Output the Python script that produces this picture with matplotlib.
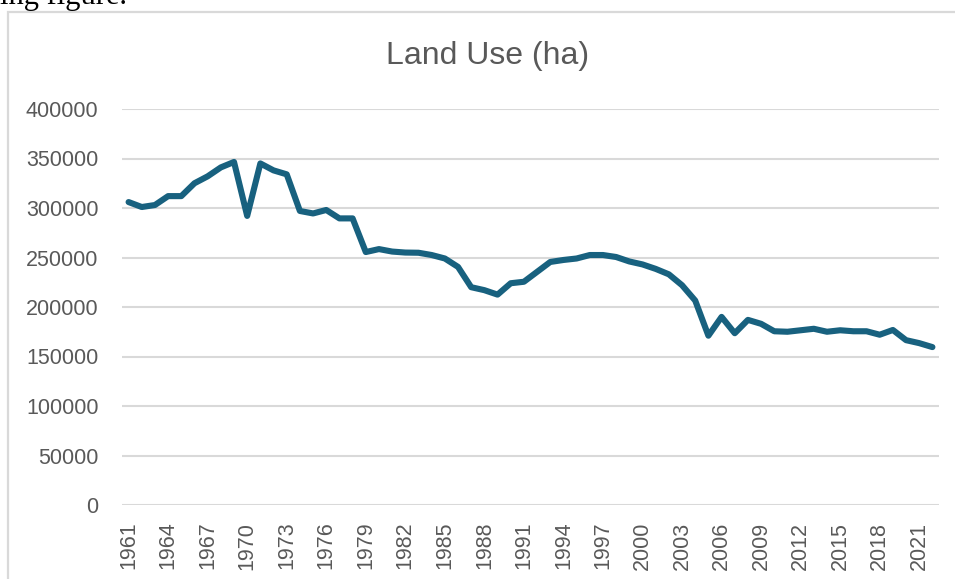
import matplotlib.pyplot as plt
from matplotlib.patches import Rectangle

years = list(range(1961, 2023))

land_use = [306000, 301000, 303000, 312000, 312000, 325000, 332000, 341000, 346500, 292000,
            345000, 338000, 334000, 297000, 294500, 298000, 289500, 289500, 255500, 258500,
            256000, 255000, 254800, 252500, 249000, 240500, 220000, 217000, 212500, 224000,
            225500, 235500, 245500, 247500, 249000, 252500, 252500, 250500, 246000, 243000,
            238500, 233000, 222000, 206500, 171000, 190000, 173500, 187000, 183000, 175500,
            175000, 176500, 178000, 175000, 176500, 175500, 175500, 172000, 176800, 166500,
            163500, 159500]

tick_years = years[::3]
y_ticks = list(range(0, 400001, 50000))

W, H = 955, 579
fig = plt.figure(figsize=(W / 100, H / 100), dpi=100)

# chart frame (Excel chart area border)
fig.patches.append(Rectangle((8 / W, -0.1), 1.1, (H - 12) / H + 0.1, transform=fig.transFigure,
                             fill=False, edgecolor="#d9d9d9", linewidth=1.6))

# cut-off text from the surrounding document
fig.text(127 / W, 1 - 4 / H, "ing figure.", ha="right", va="baseline",
         fontsize=22, family="Liberation Serif", color="black")

ax = fig.add_axes([122 / W, (H - 505) / H, (939 - 122) / W, (505 - 109) / H])
ax.plot(years, land_use, color="#18617f", linewidth=4.4, solid_joinstyle="round",
        solid_capstyle="round", zorder=3)

ax.set_xlim(1960.5, 2022.5)
ax.set_ylim(0, 400000)
ax.set_xticks(tick_years)
ax.set_xticklabels([str(y) for y in tick_years], rotation=90)
ax.set_yticks(y_ticks)
ax.set_yticklabels([str(v) for v in y_ticks])

ax.grid(axis="y", color="#d9d9d9", linewidth=1.5)
ax.set_axisbelow(True)
for s in ax.spines.values():
    s.set_visible(False)
ax.tick_params(length=0, colors="#595959", labelsize=15.5)
ax.tick_params(axis="y", pad=17)
ax.tick_params(axis="x", pad=12)
for lab in ax.get_xticklabels() + ax.get_yticklabels():
    lab.set_family("Liberation Sans")

fig.text(488 / W, 1 - 56 / H, "Land Use (ha)", ha="center", va="center",
         fontsize=23, family="Liberation Sans", color="#595959")

fig.savefig("out.png", dpi=100)
